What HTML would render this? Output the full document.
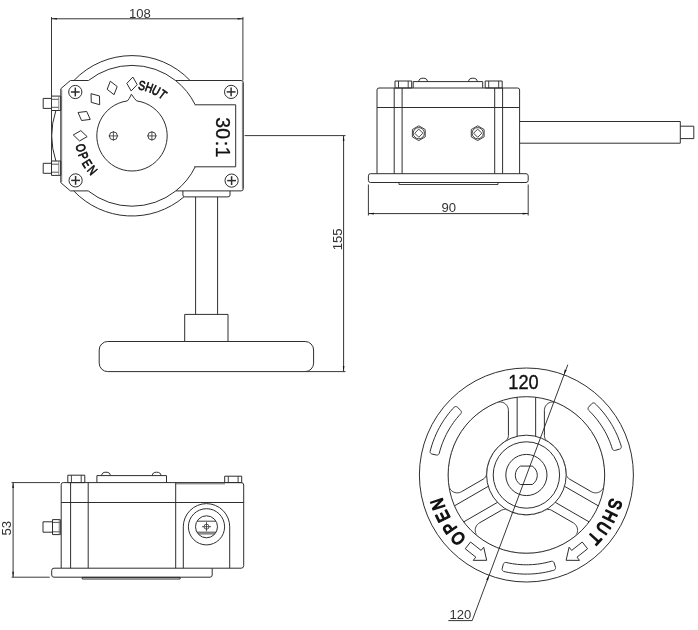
<!DOCTYPE html>
<html><head><meta charset="utf-8"><title>Gear operator dimensions</title>
<style>
html,body{margin:0;padding:0;background:#fff;}
body{width:698px;height:630px;overflow:hidden;font-family:"Liberation Sans",sans-serif;}
svg{display:block;filter:grayscale(1);}
svg text{font-family:"Liberation Sans",sans-serif;}
</style></head><body>
<svg width="698" height="630" viewBox="0 0 698 630" fill="none" stroke="#2e2e2e" stroke-width="1" stroke-linecap="butt" stroke-linejoin="round">
<rect x="0" y="0" width="698" height="630" fill="#fff" stroke="none"/>
<path d="M88.43,80.5 L70.4,80.5 L60.8,88.7 L60.8,182.7 L70.4,190.9 L88.18,190.9"/>
<line x1="61.7" y1="89.5" x2="61.7" y2="182" stroke-width="0.8" stroke="#666"/>
<path d="M175.57,80.5 L241.1,80.5 Q243.3,80.5 243.3,82.7 L243.3,188.7 Q243.3,190.9 241.1,190.9 L175.82,190.9"/>
<line x1="242.4" y1="82.5" x2="242.4" y2="188.9" stroke-width="0.8" stroke="#666"/>
<path d="M88.43,80.5 A70.4,70.4 0 0 1 175.57,80.5"/>
<path d="M73.91,80.5 A80.2,80.2 0 0 1 190.09,80.5"/>
<path d="M175.57,80.5 A70.4,70.4 0 0 1 195.11,104.6"/>
<path d="M195.11,167 A70.4,70.4 0 0 1 175.82,190.9"/>
<path d="M194.7,104.8 L235.7,104.8 L235.7,166.8 L194.2,166.8"/>
<path d="M175.82,190.9 A70.4,70.4 0 0 1 88.18,190.9"/>
<path d="M183.95,196.9 A80.2,80.2 0 0 1 73.72,190.9"/>
<path d="M55.93,161.2 A80.2,80.2 0 0 1 55.9,110.5"/>
<path d="M182.9,190.9 L182.9,194.9 Q182.9,196.9 184.9,196.9 L228,196.9 Q230,196.9 230,194.9 L230,190.9"/>
<line x1="195.6" y1="196.9" x2="195.6" y2="314.4"/>
<line x1="217.6" y1="196.9" x2="217.6" y2="314.4"/>
<rect x="184.7" y="314.4" width="43.3" height="27.1"/>
<rect x="99.2" y="341.5" width="214.4" height="30.1" rx="8.5"/>
<rect x="51.5" y="96.1" width="9.3" height="14.4"/>
<rect x="43.2" y="98.4" width="8.3" height="10"/>
<line x1="51.5" y1="99.3" x2="58.8" y2="99.3" stroke-width="0.8"/>
<line x1="51.5" y1="107.3" x2="58.8" y2="107.3" stroke-width="0.8"/>
<line x1="58.8" y1="96.1" x2="58.8" y2="110.5" stroke-width="0.9" stroke="#777"/>
<rect x="51.5" y="161" width="9.3" height="14.4"/>
<rect x="43.2" y="163.3" width="8.3" height="10"/>
<line x1="51.5" y1="164.2" x2="58.8" y2="164.2" stroke-width="0.8"/>
<line x1="51.5" y1="172.2" x2="58.8" y2="172.2" stroke-width="0.8"/>
<line x1="58.8" y1="161" x2="58.8" y2="175.4" stroke-width="0.9" stroke="#777"/>
<circle cx="75.3" cy="92" r="6.6"/>
<line x1="70.9" y1="92" x2="79.7" y2="92" stroke-width="1.5"/>
<line x1="75.3" y1="87.6" x2="75.3" y2="96.4" stroke-width="1.5"/>
<circle cx="231.1" cy="91.9" r="6.6"/>
<line x1="226.7" y1="91.9" x2="235.5" y2="91.9" stroke-width="1.5"/>
<line x1="231.1" y1="87.5" x2="231.1" y2="96.3" stroke-width="1.5"/>
<circle cx="75.6" cy="180.4" r="6.6"/>
<line x1="71.2" y1="180.4" x2="80" y2="180.4" stroke-width="1.5"/>
<line x1="75.6" y1="176" x2="75.6" y2="184.8" stroke-width="1.5"/>
<circle cx="231.6" cy="180.6" r="6.6"/>
<line x1="227.2" y1="180.6" x2="236" y2="180.6" stroke-width="1.5"/>
<line x1="231.6" y1="176.2" x2="231.6" y2="185" stroke-width="1.5"/>
<path d="M136.66,100.91 A35.2,35.2 0 1 1 127.34,100.91 Q129.34,99.11 131.4,94.2 Q134.66,99.11 136.66,100.91"/>
<circle cx="113.4" cy="135.9" r="4" stroke-width="0.9"/>
<line x1="108.6" y1="135.9" x2="118.2" y2="135.9" stroke-width="0.8"/>
<line x1="113.4" y1="131.1" x2="113.4" y2="140.7" stroke-width="0.8"/>
<circle cx="151.9" cy="135.9" r="4" stroke-width="0.9"/>
<line x1="147.1" y1="135.9" x2="156.7" y2="135.9" stroke-width="0.8"/>
<line x1="151.9" y1="131.1" x2="151.9" y2="140.7" stroke-width="0.8"/>
<path d="M132.85,77.05 L137.16,84.63 L131.15,90.95 L126.84,83.37Z" stroke-width="1"/>
<path d="M110.31,81.2 L117.19,86.55 L114.05,94.69 L107.17,89.33Z" stroke-width="1"/>
<path d="M91.06,93.66 L99.47,95.97 L99.68,104.69 L91.27,102.37Z" stroke-width="1"/>
<path d="M78.05,112.53 L86.7,111.45 L90.24,119.42 L81.58,120.5Z" stroke-width="1"/>
<path d="M73.25,134.95 L80.83,130.64 L87.15,136.65 L79.57,140.96Z" stroke-width="1"/>
<text transform="translate(141.83,85.25) rotate(11) scale(0.78,1)" x="0" y="4.65" font-size="13" text-anchor="middle" fill="#111" stroke="#111" stroke-width="0.75">S</text>
<text transform="translate(149.19,87.25) rotate(19.5) scale(0.78,1)" x="0" y="4.65" font-size="13" text-anchor="middle" fill="#111" stroke="#111" stroke-width="0.75">H</text>
<text transform="translate(156.18,90.33) rotate(28) scale(0.78,1)" x="0" y="4.65" font-size="13" text-anchor="middle" fill="#111" stroke="#111" stroke-width="0.75">U</text>
<text transform="translate(162.71,94.45) rotate(36.6) scale(0.78,1)" x="0" y="4.65" font-size="13" text-anchor="middle" fill="#111" stroke="#111" stroke-width="0.75">T</text>
<text transform="translate(80.91,147.88) rotate(76.7) scale(0.78,1)" x="0" y="4.65" font-size="13" text-anchor="middle" fill="#111" stroke="#111" stroke-width="0.75">O</text>
<text transform="translate(83.5,155.89) rotate(67.5) scale(0.78,1)" x="0" y="4.65" font-size="13" text-anchor="middle" fill="#111" stroke="#111" stroke-width="0.75">P</text>
<text transform="translate(87.33,163.39) rotate(58.3) scale(0.78,1)" x="0" y="4.65" font-size="13" text-anchor="middle" fill="#111" stroke="#111" stroke-width="0.75">E</text>
<text transform="translate(92.32,170.17) rotate(49.1) scale(0.78,1)" x="0" y="4.65" font-size="13" text-anchor="middle" fill="#111" stroke="#111" stroke-width="0.75">N</text>
<text transform="translate(216,122.7) rotate(90) scale(0.95,1)" x="0" y="0" font-size="20.5" text-anchor="middle" fill="#111" stroke="#111" stroke-width="0.3">3</text>
<text transform="translate(216,133.65) rotate(90) scale(0.95,1)" x="0" y="0" font-size="20.5" text-anchor="middle" fill="#111" stroke="#111" stroke-width="0.3">0</text>
<text transform="translate(216,143.45) rotate(90) scale(0.95,1)" x="0" y="0" font-size="20.5" text-anchor="middle" fill="#111" stroke="#111" stroke-width="0.3">:</text>
<text transform="translate(216,152.2) rotate(90) scale(0.95,1)" x="0" y="0" font-size="20.5" text-anchor="middle" fill="#111" stroke="#111" stroke-width="0.3">1</text>
<line x1="51.5" y1="17" x2="51.5" y2="161" stroke-width="1" stroke="#3a3a3a"/>
<line x1="242.9" y1="17" x2="242.9" y2="80.5" stroke-width="1" stroke="#3a3a3a"/>
<line x1="51.5" y1="18.8" x2="243.3" y2="18.8" stroke-width="1" stroke="#333"/>
<path d="M51.5,18.8 L57,18 L57,19.6 Z" fill="#111" stroke="none"/>
<path d="M243.1,18.8 L237.6,19.6 L237.6,18 Z" fill="#111" stroke="none"/>
<text transform="translate(139.9,17.5) scale(0.97,1)" font-size="13.5" font-weight="normal" text-anchor="middle" fill="#333" stroke="none">108</text>
<line x1="244.6" y1="135.6" x2="345.5" y2="135.6" stroke-width="1" stroke="#3a3a3a"/>
<line x1="305" y1="371.6" x2="345.5" y2="371.6" stroke-width="1" stroke="#3a3a3a"/>
<line x1="343.6" y1="135.6" x2="343.6" y2="371.6" stroke-width="1" stroke="#333"/>
<path d="M343.6,135.6 L344.4,141.1 L342.8,141.1 Z" fill="#111" stroke="none"/>
<path d="M343.6,371.6 L342.8,366.1 L344.4,366.1 Z" fill="#111" stroke="none"/>
<text transform="translate(342,239.3) rotate(-90) scale(0.97,1)" font-size="13.5" font-weight="normal" text-anchor="middle" fill="#333" stroke="none">155</text>
<path d="M377,173.7 L377,90 Q377,88 379,88 L517.6,88 Q519.6,88 519.6,90 L519.6,173.7"/>
<line x1="377" y1="107.5" x2="519.6" y2="107.5"/>
<line x1="394.2" y1="88" x2="394.2" y2="173.7"/>
<line x1="402.1" y1="88" x2="402.1" y2="173.7"/>
<line x1="494.7" y1="88" x2="494.7" y2="173.7"/>
<line x1="502.6" y1="88" x2="502.6" y2="173.7"/>
<rect x="395" y="81" width="16.7" height="7"/>
<line x1="398.5" y1="81" x2="398.5" y2="88" stroke-width="0.9"/>
<line x1="408.2" y1="81" x2="408.2" y2="88" stroke-width="0.9"/>
<rect x="485.2" y="81" width="17" height="7"/>
<line x1="488.7" y1="81" x2="488.7" y2="88" stroke-width="0.9"/>
<line x1="498.7" y1="81" x2="498.7" y2="88" stroke-width="0.9"/>
<path d="M413.2,88 L413.2,81.6 L482.7,81.6 L482.7,88"/>
<path d="M418.8,81.6 A4.3,3.4 0 0 1 427.4,81.6"/>
<path d="M468.6,81.6 A4.3,3.4 0 0 1 477.2,81.6"/>
<path d="M425.21,136.9 L418.8,140.6 L412.39,136.9 L412.39,129.5 L418.8,125.8 L425.21,129.5Z" stroke-width="0.9"/>
<circle cx="418.8" cy="133.2" r="5.6" stroke-width="0.9"/>
<path d="M414.7,133.2 L418.8,129.1 L422.9,133.2 L418.8,137.3Z" stroke-width="0.9"/>
<path d="M484.11,136.9 L477.7,140.6 L471.29,136.9 L471.29,129.5 L477.7,125.8 L484.11,129.5Z" stroke-width="0.9"/>
<circle cx="477.7" cy="133.2" r="5.6" stroke-width="0.9"/>
<path d="M473.6,133.2 L477.7,129.1 L481.8,133.2 L477.7,137.3Z" stroke-width="0.9"/>
<rect x="368.4" y="173.7" width="159.8" height="8.8" rx="2.2"/>
<path d="M399,182.5 L399,184.5 L498,184.5 L498,182.5" stroke-width="0.9"/>
<path d="M519.6,121.5 L680.3,121.5 L680.3,143.2 L519.6,143.2"/>
<path d="M680.3,126.2 L693.8,126.2 L693.8,138.6 L680.3,138.6"/>
<line x1="368.4" y1="184.5" x2="368.4" y2="215.5" stroke-width="1" stroke="#3a3a3a"/>
<line x1="528.2" y1="184.5" x2="528.2" y2="215.5" stroke-width="1" stroke="#3a3a3a"/>
<line x1="368.4" y1="213.6" x2="528.2" y2="213.6" stroke-width="1" stroke="#333"/>
<path d="M368.4,213.6 L373.9,212.8 L373.9,214.4 Z" fill="#111" stroke="none"/>
<path d="M528.2,213.6 L522.7,214.4 L522.7,212.8 Z" fill="#111" stroke="none"/>
<text transform="translate(448.8,211.9) scale(0.97,1)" font-size="13.5" font-weight="normal" text-anchor="middle" fill="#333" stroke="none">90</text>
<path d="M61.2,568.2 L61.2,484.6 Q61.2,482.6 63.2,482.6 L241.2,482.6 Q243.7,482.6 243.7,485.1 L243.7,565.7 Q243.7,568.2 241.2,568.2 L212.2,568.2"/>
<line x1="61.2" y1="502.5" x2="243.7" y2="502.5"/>
<line x1="61.2" y1="568.2" x2="212.2" y2="568.2"/>
<line x1="70.6" y1="482.6" x2="70.6" y2="568.2"/>
<line x1="88.2" y1="482.6" x2="88.2" y2="568.2"/>
<line x1="175.7" y1="482.6" x2="175.7" y2="568.2"/>
<line x1="175.7" y1="483.8" x2="225" y2="483.8" stroke-width="0.9" stroke="#555"/>
<rect x="67.8" y="475.2" width="17" height="7.4"/>
<line x1="71.4" y1="475.2" x2="71.4" y2="482.6" stroke-width="0.9"/>
<line x1="81.2" y1="475.2" x2="81.2" y2="482.6" stroke-width="0.9"/>
<rect x="224.7" y="476.2" width="17" height="6.4"/>
<line x1="228.3" y1="476.2" x2="228.3" y2="482.6" stroke-width="0.9"/>
<line x1="238.1" y1="476.2" x2="238.1" y2="482.6" stroke-width="0.9"/>
<path d="M96.9,482.6 L96.9,475.6 L166.5,475.6 L166.5,482.6"/>
<path d="M101.7,475.6 A4.3,3.4 0 0 1 110.3,475.6"/>
<path d="M152.3,475.6 A4.3,3.4 0 0 1 160.9,475.6"/>
<rect x="52.5" y="519.6" width="7.8" height="15"/>
<rect x="43" y="521.8" width="9.5" height="10.4"/>
<line x1="52.5" y1="522.4" x2="60.3" y2="522.4" stroke-width="0.8"/>
<line x1="52.5" y1="531.8" x2="60.3" y2="531.8" stroke-width="0.8"/>
<line x1="59.2" y1="519.6" x2="59.2" y2="534.6" stroke-width="0.9" stroke="#777"/>
<path d="M183.3,568.2 L183.3,526.8 A23.2,23.2 0 0 1 229.7,526.8 L229.7,568.2"/>
<circle cx="206.5" cy="526.8" r="18.1"/>
<circle cx="206.5" cy="526.8" r="11"/>
<line x1="197.03" y1="521.2" x2="215.97" y2="521.2" stroke-width="0.9"/>
<line x1="196.92" y1="532.2" x2="216.08" y2="532.2" stroke-width="0.9"/>
<line x1="198.1" y1="533.9" x2="214.9" y2="533.9" stroke-width="0.9"/>
<circle cx="206.5" cy="526.7" r="2.5" stroke-width="0.8"/>
<line x1="201.9" y1="526.7" x2="211.1" y2="526.7" stroke-width="0.8"/>
<line x1="206.5" y1="522.1" x2="206.5" y2="531.3" stroke-width="0.8"/>
<path d="M212.2,568.2 L212.2,575 Q212.2,577.2 210,577.2 L54,577.2 Q51.7,577.2 51.7,575 L51.7,570.4 Q51.7,568.2 54,568.2 L61.2,568.2"/>
<rect x="82.2" y="577.4" width="97.9" height="1.6" stroke-width="1"/>
<line x1="11.6" y1="482.6" x2="60" y2="482.6" stroke-width="1" stroke="#3a3a3a"/>
<line x1="11.6" y1="577.2" x2="49.7" y2="577.2" stroke-width="1" stroke="#3a3a3a"/>
<line x1="13.1" y1="482.6" x2="13.1" y2="577.2" stroke-width="1" stroke="#333"/>
<path d="M13.1,482.6 L13.9,488.1 L12.3,488.1 Z" fill="#111" stroke="none"/>
<path d="M13.1,577.2 L12.3,571.7 L13.9,571.7 Z" fill="#111" stroke="none"/>
<text transform="translate(11.2,528.3) rotate(-90) scale(0.97,1)" font-size="13.5" font-weight="normal" text-anchor="middle" fill="#333" stroke="none">53</text>
<circle cx="526.4" cy="475" r="107"/>
<circle cx="526.4" cy="475" r="78.3"/>
<circle cx="526.4" cy="475" r="39.8"/>
<circle cx="526.4" cy="475" r="33.2"/>
<circle cx="526.4" cy="475" r="20.6"/>
<path d="M520.27,466.1 L532.33,466.1 A11,11 0 0 1 532.33,484.5 L520.27,484.5 A11,11 0 0 1 520.27,466.1Z"/>
<clipPath id="wclip"><path clip-rule="evenodd" d="M526.4,475 m-77.75,0 a77.75,77.75 0 1 0 155.5,0 a77.75,77.75 0 1 0 -155.5,0 Z M526.4,475 m-40.35,0 a40.35,40.35 0 1 0 80.7,0 a40.35,40.35 0 1 0 -80.7,0 Z"/></clipPath>
<path clip-path="url(#wclip)" d="M448.94,486.28 449.17,487.08 449.48,487.86 449.86,488.6 450.31,489.3 450.83,489.95 451.41,490.55 452.05,491.09 452.74,491.57 453.47,491.97 454.23,492.3 455.03,492.56 455.84,492.73 456.67,492.83 457.51,492.84 458.34,492.77 459.16,492.62 459.57,492.52 460.36,492.25 460.74,492.09 461.48,491.71 483.14,479.2 483.98,478.64 484.48,478.2 484.95,477.71 485.55,476.9 485.88,476.32 486.16,475.7 486.38,475.07 486.53,474.41 486.62,473.75 486.72,472.09 486.82,470.88 487.11,468.7 487.57,466.3 488.18,463.94 488.93,461.61 489.73,459.56 490.63,457.56 491.77,455.4 492.9,453.52 494.14,451.71 495.32,450.15 496.74,448.47 497.74,447.4 498.77,446.36 499.67,445.53 500.77,444.57 501.91,443.64 502.88,442.91 503.87,442.2 505.69,440.98 506.44,440.3 506.89,439.8 507.46,438.97 507.9,438.06 508.21,437.1 508.34,436.44 508.41,435.44 508.41,410.43 508.37,409.59 508.25,408.77 508.04,407.96 507.91,407.56 507.6,406.79 507.2,406.06 506.74,405.36 506.21,404.72 505.62,404.13 504.98,403.6 504.64,403.36 503.92,402.93 503.17,402.57 502.39,402.29 501.98,402.18 501.17,402.01 500.34,401.93 499.5,401.93 498.67,402.01 498.26,402.08 497.45,402.28 496.46,402.64 494.25,403.59 492.51,404.4 490.74,405.28 488.66,406.38 486.99,407.33 485.34,408.32 483.72,409.34 482.08,410.44 480.51,411.55 478.96,412.69 477.45,413.88 475.63,415.37 474.19,416.64 472.77,417.94 471.39,419.27 470.03,420.64 468.68,422.07 467.4,423.51 466.15,424.97 464.95,426.46 463.77,427.99 462.64,429.54 461.3,431.47 459.47,434.35 458.49,436.01 457.58,437.64 456.01,440.68 455.19,442.41 454.43,444.12 453.16,447.29 452.5,449.1 451.9,450.87 450.92,454.14 450.43,456 450,457.82 449.32,461.16 449.01,463.06 448.74,464.91 448.38,468.31 448.24,470.22 448.14,472.09 448.1,474.01 448.1,475.93 448.21,479.35 448.34,481.27 448.52,483.18 448.79,485.46ZM555.35,402.28 554.54,402.08 553.71,401.96 552.88,401.92 552.05,401.96 551.22,402.08 550.41,402.29 549.63,402.57 548.88,402.93 548.16,403.36 547.49,403.86 546.87,404.42 546.32,405.04 545.82,405.71 545.39,406.42 545.04,407.17 544.76,407.96 544.55,408.77 544.48,409.18 544.4,410.01 544.39,410.43 544.39,435.44 544.43,436.14 544.61,437.18 544.82,437.85 545.09,438.5 545.43,439.11 545.83,439.69 546.29,440.23 546.79,440.72 547.34,441.16 549.69,442.74 551.44,444.08 552.38,444.86 553.47,445.84 555.21,447.55 556.83,449.37 558.2,451.09 559.61,453.08 560.77,454.95 561.82,456.88 562.77,458.86 563.6,460.89 564.25,462.73 564.68,464.13 564.99,465.31 565.32,466.74 565.6,468.18 565.83,469.63 565.97,470.84 566.22,474.08 566.43,475.07 566.64,475.71 567.08,476.61 567.64,477.45 568.32,478.2 568.82,478.64 569.66,479.2 591.32,491.71 592.06,492.09 592.84,492.4 593.64,492.62 594.46,492.77 595.29,492.84 595.71,492.85 596.54,492.79 597.37,492.66 597.77,492.56 598.57,492.3 599.33,491.97 600.06,491.57 600.75,491.09 601.39,490.55 601.68,490.26 602.23,489.63 602.72,488.95 603.14,488.23 603.32,487.86 603.63,487.08 603.86,486.28 604.01,485.46 604.29,483.13 604.5,480.79 604.61,478.87 604.69,476.95 604.71,475.03 604.69,473.05 604.61,471.13 604.5,469.21 604.33,467.3 604.06,464.96 603.79,463.06 603.48,461.16 603.12,459.28 602.71,457.4 602.24,455.48 601.74,453.63 601.19,451.78 600.46,449.55 599.81,447.74 599.12,445.95 598.37,444.12 597.59,442.37 596.76,440.63 595.92,438.96 595.02,437.26 593.31,434.31 592.32,432.72 591.26,431.12 589.28,428.33 588.15,426.84 586.95,425.34 584.73,422.75 583.46,421.37 582.13,419.99 579.68,417.61 578.25,416.32 576.84,415.1 574.18,412.95 572.68,411.83 571.12,410.71 568.27,408.83 566.64,407.82 565.02,406.88 563.34,405.95 561.63,405.06 559.91,404.22 558.16,403.42 556.13,402.55ZM551.36,510.19 550.38,509.78 549.71,509.59 549.01,509.47 547.96,509.43 546.91,509.54 546.22,509.7 545.55,509.93 542.76,511.27 541.64,511.75 540.28,512.29 538.2,513 536.09,513.59 533.7,514.11 532.5,514.32 531.05,514.52 528.61,514.73 527.39,514.78 525.93,514.79 523.98,514.72 521.79,514.52 519.86,514.25 517.94,513.88 516.75,513.6 515.34,513.22 513.94,512.79 512.55,512.3 510.52,511.48 509.18,510.87 507.6,510.08 506.61,509.72 505.58,509.5 504.53,509.44 503.48,509.54 502.79,509.7 501.8,510.06 501.18,510.38 479.49,522.87 478.79,523.32 478.14,523.84 477.83,524.12 477.26,524.73 477,525.05 476.52,525.74 476.31,526.09 475.94,526.84 475.78,527.23 475.52,528.02 475.42,528.42 475.29,529.25 475.25,529.66 475.23,530.49 475.3,531.33 475.44,532.15 475.55,532.55 475.81,533.34 475.97,533.72 476.35,534.47 476.57,534.82 477.05,535.5 477.31,535.83 477.89,536.43 478.2,536.71 480.51,538.45 482.87,540.1 485.3,541.66 487.78,543.12 490.31,544.5 492.51,545.6 495.13,546.8 497.74,547.88 500.45,548.88 502.77,549.66 505.49,550.47 508.28,551.18 510.68,551.72 513.04,552.16 515.84,552.59 518.27,552.89 520.67,553.1 523.49,553.26 525.95,553.31 528.35,553.29 531.18,553.16 533.62,552.98 536.01,552.72 538.81,552.32 541.18,551.9 543.58,551.4 545.92,550.84 548.65,550.08 551.4,549.21 554.11,548.24 556.79,547.17 559.42,546.01 562.06,544.72 564.6,543.36 567.09,541.91 569.53,540.36 571.86,538.76 573.84,537.31 574.61,536.7 575.22,536.13 575.5,535.82 576.01,535.16 576.24,534.82 576.66,534.09 577,533.33 577.14,532.94 577.37,532.14 577.51,531.32 577.56,530.91 577.58,530.49 577.56,529.66 577.47,528.83 577.29,528.02 577.17,527.62 576.87,526.84 576.51,526.09 576.29,525.73 575.82,525.05 575.56,524.72 574.99,524.12 574.36,523.57 573.68,523.08 573.33,522.87Z"/>
<line x1="517.15" y1="436.29" x2="517.15" y2="397.25"/>
<line x1="535.65" y1="436.29" x2="535.65" y2="397.25"/>
<line x1="497.5" y1="502.37" x2="463.69" y2="521.89"/>
<line x1="488.25" y1="486.34" x2="454.44" y2="505.87"/>
<line x1="564.55" y1="486.34" x2="598.36" y2="505.87"/>
<line x1="555.3" y1="502.37" x2="589.11" y2="521.89"/>
<path d="M591.71,403.73 588.52,407.23 588.28,407.62 588.12,408.06 588.04,408.52 588.04,408.75 588.1,409.21 588.25,409.65 588.48,410.05 588.78,410.4 589.79,411.4 591.53,413.18 593.23,415.02 594.89,416.92 597.26,419.84 599.51,422.86 601.62,425.95 602.97,428.09 604.86,431.32 606.05,433.53 607.18,435.77 608.76,439.2 609.72,441.51 610.63,443.85 611.46,446.22 612.35,448.97 612.45,449.18 612.71,449.56 613.03,449.9 613.22,450.04 613.62,450.26 613.84,450.34 614.29,450.44 614.76,450.45 615.22,450.37 619.55,449.17 620,448.99 620.4,448.74 620.74,448.41 620.89,448.22 621.01,448.01 621.2,447.58 621.3,447.11 621.31,446.87 621.3,446.63 621.21,446.16 620.27,443.24 619.34,440.6 617.83,436.77 616.73,434.23 615.55,431.73 614.31,429.26 612.98,426.79 611.6,424.39 610.16,422.03 608.64,419.71 607.07,417.44 605.43,415.21 602.86,411.95 600.15,408.81 598.3,406.8 596.36,404.82 595.14,403.61 594.96,403.46 594.55,403.2 594.11,403.03 593.87,402.98 593.4,402.95 593.16,402.97 592.7,403.08 592.26,403.28 591.88,403.56Z"/>
<path d="M430.21,451.17 430.14,451.64 430.17,452.11 430.29,452.57 430.5,453 430.8,453.38 430.97,453.55 431.36,453.82 431.79,454.01 436.42,455.05 436.88,455.11 437.34,455.07 437.57,455.02 438,454.86 438.2,454.75 438.57,454.46 438.88,454.12 439.01,453.92 439.2,453.5 439.95,450.69 441.04,447.11 441.85,444.74 442.73,442.39 443.68,440.05 444.69,437.75 446.31,434.38 447.48,432.16 448.71,429.96 450,427.81 451.35,425.69 453.47,422.6 454.96,420.59 456.51,418.62 458.93,415.74 460.88,413.58 461.12,413.19 461.22,412.97 461.34,412.53 461.37,412.3 461.36,411.83 461.26,411.38 461.08,410.95 460.96,410.75 460.66,410.4 457.45,407.24 457.08,406.95 456.66,406.73 456.2,406.59 455.96,406.56 455.48,406.57 455.02,406.68 454.58,406.87 454.19,407.14 452.88,408.55 450.14,411.71 448.43,413.84 446.75,416.04 444.33,419.45 442.83,421.74 441.37,424.09 439.32,427.7 438.02,430.18 436.23,433.89 434.59,437.7 433.11,441.58 432.2,444.23 431,448.17Z"/>
<path d="M503.32,564.23 502.15,568.82 502.12,569.3 502.14,569.54 502.26,570 502.46,570.43 502.75,570.81 502.92,570.98 503.31,571.26 503.74,571.46 505.61,571.89 508.32,572.44 511.05,572.9 513.79,573.29 516.54,573.61 519.3,573.85 522.06,574 524.83,574.09 527.63,574.09 530.39,574.02 533.16,573.87 535.91,573.64 538.63,573.34 542.77,572.74 545.46,572.25 548.17,571.68 552.2,570.68 553.85,570.22 554.3,570.04 554.5,569.92 554.87,569.62 555.03,569.44 555.3,569.05 555.48,568.61 555.57,568.14 555.58,567.9 555.53,567.43 555.47,567.19 554.12,562.9 553.93,562.47 553.67,562.09 553.52,561.92 553.34,561.76 552.96,561.51 552.53,561.33 552.07,561.24 551.84,561.22 551.38,561.27 548.57,562.02 544.93,562.87 542.46,563.35 539.99,563.77 537.51,564.11 535,564.39 532.5,564.59 528.76,564.77 526.25,564.8 523.73,564.76 519.99,564.57 517.49,564.36 515,564.07 512.52,563.72 508.81,563.06 505.97,562.45 505.74,562.43 505.28,562.46 504.83,562.58 504.41,562.78 504.21,562.91 503.87,563.22 503.72,563.4 503.48,563.8Z"/>
<path d="M486.7,560.3 L473.25,560.36 L475.8,557.15 L465.22,548.76 L470.56,542.02 L481.14,550.41 L483.69,547.19Z" stroke-width="1"/>
<path d="M566.1,560.3 L569.11,547.19 L571.66,550.41 L582.24,542.02 L587.58,548.76 L577,557.15 L579.55,560.36Z" stroke-width="1"/>
<text transform="translate(615.22,504.2) rotate(108.2) scale(0.82,1)" x="0" y="6.44" font-size="18" text-anchor="middle" fill="#111" stroke="#111" stroke-width="1.35">S</text>
<text transform="translate(610.22,516.43) rotate(116.3) scale(0.82,1)" x="0" y="6.44" font-size="18" text-anchor="middle" fill="#111" stroke="#111" stroke-width="1.35">H</text>
<text transform="translate(603.46,527.96) rotate(124.5) scale(0.82,1)" x="0" y="6.44" font-size="18" text-anchor="middle" fill="#111" stroke="#111" stroke-width="1.35">U</text>
<text transform="translate(595,538.53) rotate(132.8) scale(0.82,1)" x="0" y="6.44" font-size="18" text-anchor="middle" fill="#111" stroke="#111" stroke-width="1.35">T</text>
<text transform="translate(437.58,504.2) rotate(-108.2) scale(0.82,1)" x="0" y="6.44" font-size="18" text-anchor="middle" fill="#111" stroke="#111" stroke-width="1.35">N</text>
<text transform="translate(442.58,516.43) rotate(-116.3) scale(0.82,1)" x="0" y="6.44" font-size="18" text-anchor="middle" fill="#111" stroke="#111" stroke-width="1.35">E</text>
<text transform="translate(449.34,527.96) rotate(-124.5) scale(0.82,1)" x="0" y="6.44" font-size="18" text-anchor="middle" fill="#111" stroke="#111" stroke-width="1.35">P</text>
<text transform="translate(457.8,538.53) rotate(-132.8) scale(0.82,1)" x="0" y="6.44" font-size="18" text-anchor="middle" fill="#111" stroke="#111" stroke-width="1.35">O</text>
<text transform="translate(523.5,388.6) scale(0.91,1)" font-size="20" font-weight="normal" text-anchor="middle" fill="#111" stroke="#111" stroke-width="0.35">120</text>
<line x1="567.8" y1="364.7" x2="472.2" y2="620.6" stroke-width="0.9" stroke="#222"/>
<line x1="448.3" y1="620.6" x2="472.2" y2="620.6" stroke-width="1" stroke="#333"/>
<path d="M563.85,374.77 L564.73,369.55 L566.6,370.24 Z" fill="#111" stroke="none"/>
<path d="M488.95,575.23 L488.07,580.45 L486.2,579.76 Z" fill="#111" stroke="none"/>
<text transform="translate(460.3,618.8) scale(0.97,1)" font-size="13.5" font-weight="normal" text-anchor="middle" fill="#333" stroke="none">120</text>
</svg>
</body></html>
